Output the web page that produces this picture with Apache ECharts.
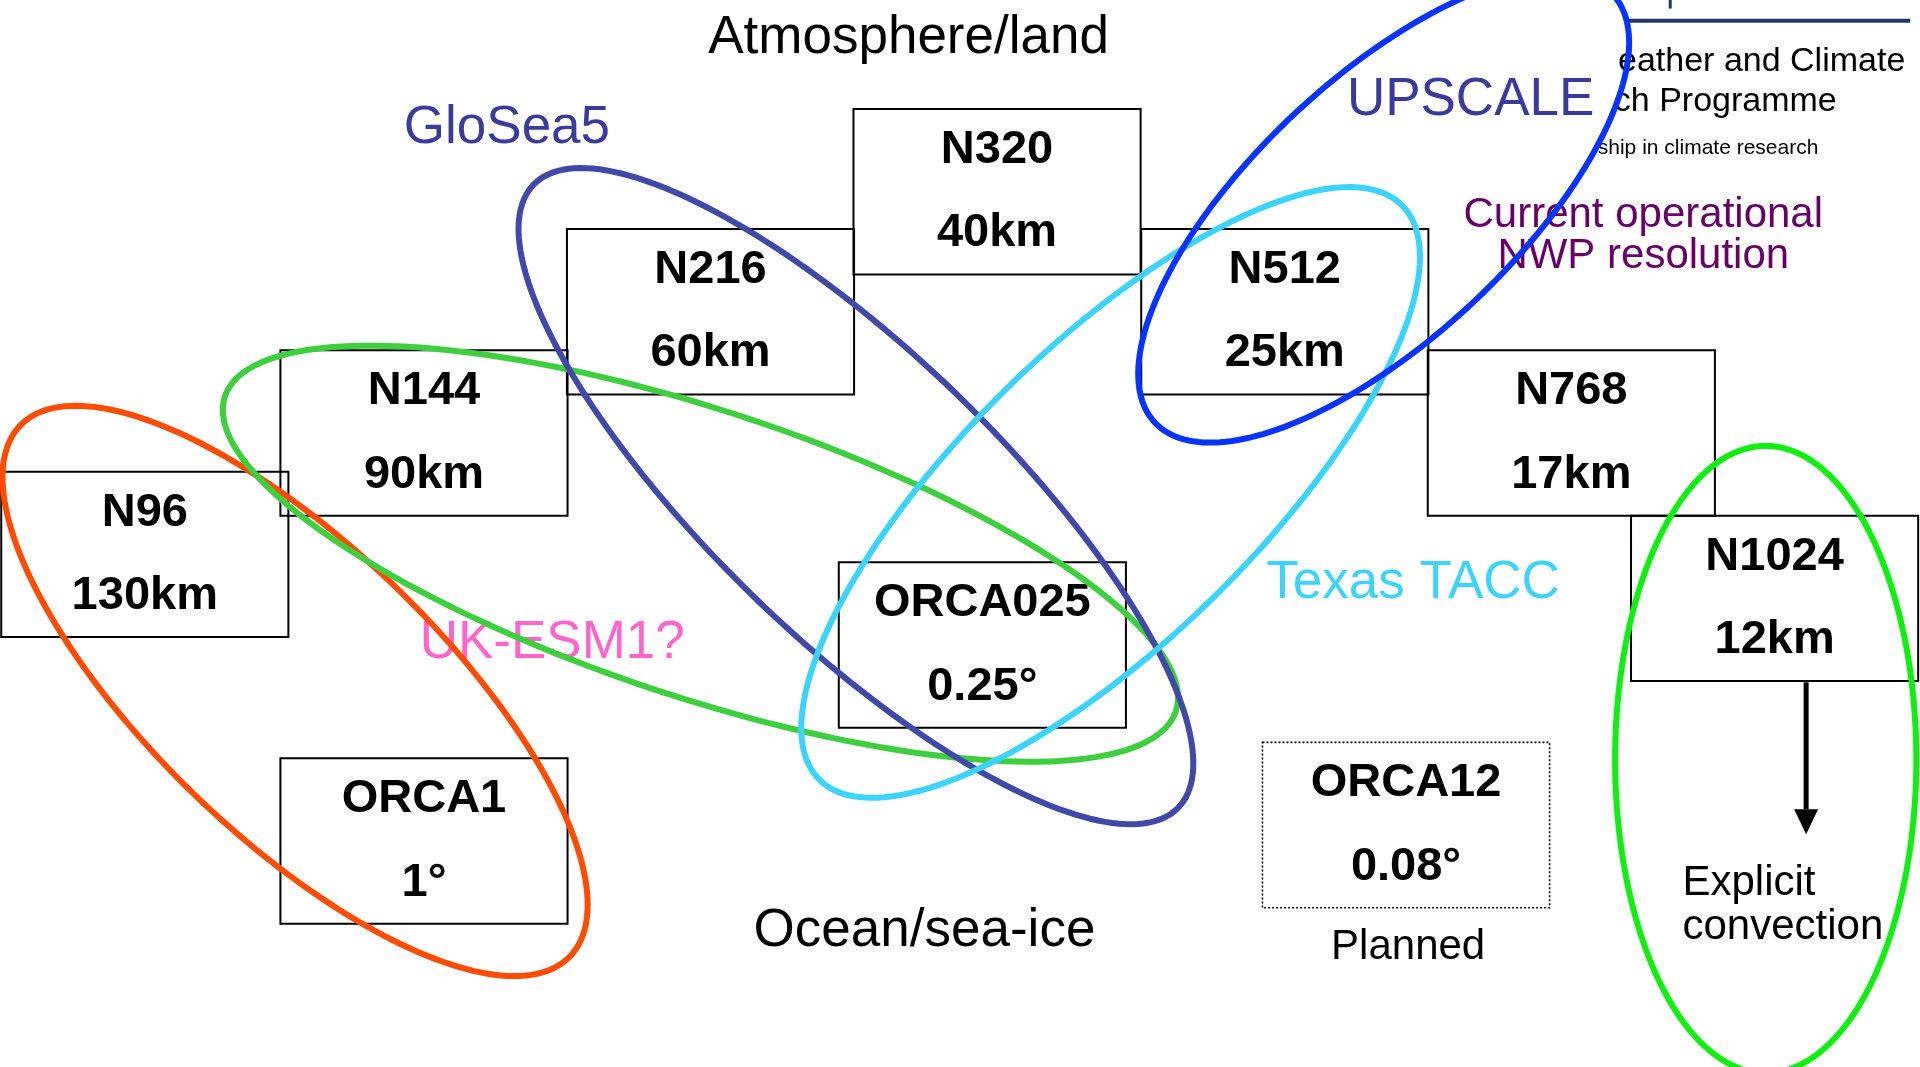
<!DOCTYPE html>
<html>
<head>
<meta charset="utf-8">
<title>Model resolutions</title>
<script src="https://cdn.jsdelivr.net/npm/echarts@6/dist/echarts.min.js"></script>
<style>
  html, body { margin: 0; padding: 0; background: #fff; }
  #chart { width: 1920px; height: 1067px; }
</style>
</head>
<body>
<div id="chart"></div>
<script>
// diagram units: x 0..1568, y 0..871 (y goes down)

// resolution boxes
var boxNames = ['N96', 'N144', 'N216', 'N320', 'N512', 'N768', 'N1024', 'ORCA025', 'ORCA1', 'ORCA12'];
var boxRes = ['130km', '90km', '60km', '40km', '25km', '17km', '12km', '0.25°', '1°', '0.08°'];
var boxX = [1, 229, 463, 697, 932, 1166, 1332, 685, 229, 1031];
var boxY = [385, 286, 187, 89, 187, 286, 421, 459, 619, 606];
var plannedBoxes = ['ORCA12'];

// the rings round groups of boxes
var ringNames = ['N96 / ORCA1', 'UK-ESM1?', 'GloSea5', 'Texas TACC', 'UPSCALE', 'Explicit convection'];
var ringCx = [241, 572, 699, 907, 1130, 1442];
var ringCy = [564, 452, 405, 402, 170, 620];
var ringA = [312, 409, 366, 334, 256, 256];
var ringB = [118, 117, 117, 120, 106, 123];
var ringTilt = [44, 18.3, 44, -44.5, -43.1, 90];

// free text
var noteText = ['Atmosphere/land', 'Ocean/sea-ice', 'GloSea5', 'UPSCALE', 'Texas TACC', 'UK-ESM1?',
  'Current operational', 'NWP resolution', 'Planned', 'Explicit', 'convection',
  'eather and Climate', 'ch Programme', 'ship in climate research'];
var noteX = [742, 755, 414, 1201, 1154, 451, 1342, 1342, 1150, 1374, 1374, 1556, 1500, 1485];
var noteY = [31, 760, 105, 82, 476, 525, 176, 209, 773, 721, 757, 50, 83, 121];

// arrow below N1024
var arrowFrom = [1475, 557];
var arrowTo = [1475, 681];

// logo rule in the corner
var ruleLines = [[1330, 17, 1560, 17], [1364, 0, 1364, 7]];

var FONT = '"Liberation Sans", Arial, sans-serif';
var BOX_W = 234.5, BOX_H = 135;
var ringColors = ['#ff4c00', '#3dcf3d', '#4048a8', '#3dd3ff', '#0633ff', '#11ee11'];
var noteColor = ['#000', '#000', '#3b3b9b', '#3a3a9e', '#3dd3ff', '#ff66cc', '#660066', '#660066',
  '#000', '#000', '#000', '#000', '#000', '#000'];
var noteSize = [53, 53, 53, 53, 53, 53, 42, 42, 42, 42, 42, 34, 34, 21];
var noteAlign = ['center', 'center', 'center', 'center', 'center', 'center', 'center', 'center',
  'center', 'left', 'left', 'right', 'right', 'right'];

var chart = echarts.init(document.getElementById('chart'));

chart.setOption({
  backgroundColor: '#fff',
  animation: false,
  grid: { left: 0, right: 0, top: 0, bottom: 0 },
  xAxis: { type: 'value', min: 0, max: 1568, show: false },
  yAxis: { type: 'value', min: 0, max: 871, inverse: true, show: false },
  series: [
    {
      // boxes
      type: 'custom',
      z: 1,
      data: boxX.map(function (x, i) { return [x, boxY[i]]; }),
      renderItem: function (params, api) {
        var i = params.dataIndex;
        var x = api.value(0), y = api.value(1);
        var p0 = api.coord([x, y]);
        var p1 = api.coord([x + BOX_W, y + BOX_H]);
        var t1 = api.coord([x + BOX_W / 2, y + 33.5]);
        var t2 = api.coord([x + BOX_W / 2, y + 101.5]);
        var dotted = plannedBoxes.indexOf(boxNames[i]) >= 0;
        return {
          type: 'group',
          children: [
            {
              type: 'rect',
              shape: { x: p0[0], y: p0[1], width: p1[0] - p0[0], height: p1[1] - p0[1] },
              style: { fill: 'none', stroke: '#000', lineWidth: dotted ? 1.6 : 2, lineDash: dotted ? [2, 2] : null }
            },
            {
              type: 'text', x: t1[0], y: t1[1],
              style: { text: boxNames[i], fill: '#000', font: 'bold 47px ' + FONT, align: 'center', verticalAlign: 'middle' }
            },
            {
              type: 'text', x: t2[0], y: t2[1],
              style: { text: boxRes[i], fill: '#000', font: 'bold 47px ' + FONT, align: 'center', verticalAlign: 'middle' }
            }
          ]
        };
      }
    },
    {
      // labels
      type: 'custom',
      z: 2,
      data: noteX.map(function (x, i) { return [x, noteY[i]]; }),
      renderItem: function (params, api) {
        var i = params.dataIndex;
        var p = api.coord([api.value(0), api.value(1)]);
        return {
          type: 'text', x: p[0], y: p[1],
          style: {
            text: noteText[i], fill: noteColor[i], font: noteSize[i] + 'px ' + FONT,
            align: noteAlign[i], verticalAlign: 'middle'
          }
        };
      }
    },
    {
      // rings
      type: 'custom',
      z: 3,
      data: ringCx.map(function (cx, i) { return [cx, ringCy[i], ringA[i], ringB[i], ringTilt[i]]; }),
      renderItem: function (params, api) {
        var cx = api.value(0), cy = api.value(1), a = api.value(2), b = api.value(3);
        var th = api.value(4) * Math.PI / 180;
        var pts = [];
        for (var k = 0; k < 200; k++) {
          var t = k / 200 * Math.PI * 2;
          var dx = a * Math.cos(t), dy = b * Math.sin(t);
          pts.push(api.coord([cx + dx * Math.cos(th) - dy * Math.sin(th), cy + dx * Math.sin(th) + dy * Math.cos(th)]));
        }
        return {
          type: 'polygon',
          shape: { points: pts },
          style: { fill: 'none', stroke: ringColors[params.dataIndex], lineWidth: 6 }
        };
      }
    },
    {
      // corner rule lines
      type: 'custom',
      z: 2,
      data: ruleLines,
      renderItem: function (params, api) {
        var p0 = api.coord([api.value(0), api.value(1)]);
        var p1 = api.coord([api.value(2), api.value(3)]);
        return {
          type: 'line',
          shape: { x1: p0[0], y1: p0[1], x2: p1[0], y2: p1[1] },
          style: { stroke: '#1f3864', lineWidth: params.dataIndex === 0 ? 4 : 3 }
        };
      }
    },
    {
      // arrow
      type: 'custom',
      z: 4,
      data: [[arrowFrom[0], arrowFrom[1], arrowTo[0], arrowTo[1]]],
      renderItem: function (params, api) {
        var p0 = api.coord([api.value(0), api.value(1)]);
        var p1 = api.coord([api.value(2), api.value(3)]);
        var hl = 25, hw = 12;
        return {
          type: 'group',
          children: [
            {
              type: 'line',
              shape: { x1: p0[0], y1: p0[1], x2: p1[0], y2: p1[1] - hl },
              style: { stroke: '#000', lineWidth: 5 }
            },
            {
              type: 'polygon',
              shape: { points: [[p1[0] - hw, p1[1] - hl], [p1[0] + hw, p1[1] - hl], [p1[0], p1[1]]] },
              style: { fill: '#000' }
            }
          ]
        };
      }
    }
  ]
});
</script>
</body>
</html>
